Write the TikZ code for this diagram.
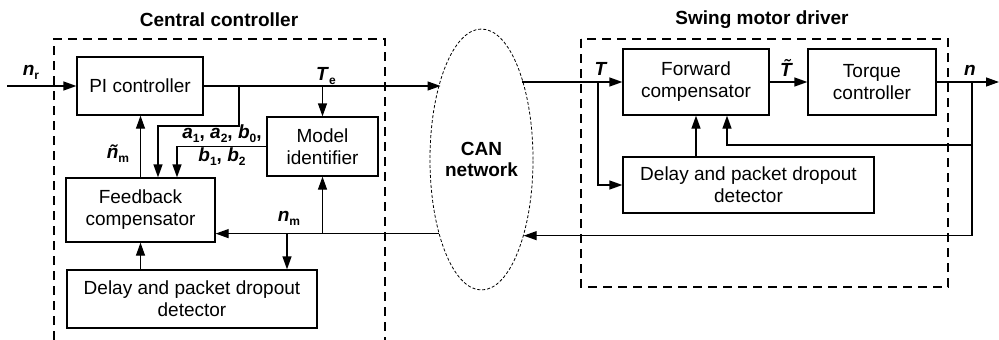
\documentclass[tikz,border=0pt]{standalone}
\usepackage{fontspec}
\setmainfont{Liberation Sans}
\usetikzlibrary{arrows.meta,shapes.geometric}
\newcommand\sig[2]{\textbf{\textit{#1}}\raisebox{-0.4ex}{\fontsize{12}{12}\selectfont\textbf{#2}}}
\tikzset{
  blk/.style={draw, line width=1.3pt, align=center, inner sep=0pt,
              font=\fontsize{19}{22}\selectfont},
  wire/.style={line width=1.3pt},
  arr/.style={wire, -{Triangle[length=13pt,width=9pt]}},
  grp/.style={line width=1.3pt, dash pattern=on 9pt off 6pt},
  ttl/.style={font=\fontsize{19}{22}\selectfont\bfseries},
  lbl/.style={font=\fontsize{19}{22}\selectfont, inner sep=0pt},
}
\begin{document}
\begin{tikzpicture}[x=1pt,y=-1pt]
\useasboundingbox (0,0) rectangle (999,340);

% group frames
\draw[grp] (54,340) -- (54,39) -- (385,39) -- (385,340);
\draw[grp] (581,39) rectangle (948,287);
\node[ttl] (t1) at (219,20) {Central controller};
\node[ttl] (t2) at (762,20) {Swing motor driver};

% central controller blocks
\node[blk, minimum width=126pt, minimum height=58pt] (pi) at (140,86) {PI controller};
\node[blk, minimum width=111pt, minimum height=59pt] (mi) at (322.5,146.5) {Model\\identifier};
\node[blk, minimum width=149pt, minimum height=64pt] (fb) at (140.5,210) {Feedback\\compensator};
\node[blk, minimum width=250pt, minimum height=58pt] (dl) at (192,299) {Delay and packet dropout\\detector};

% network
\node[draw, ellipse, line width=0.8pt, dash pattern=on 3pt off 2pt,
      minimum width=93pt, minimum height=261pt, inner sep=0pt,
      align=center, font=\fontsize{19}{21}\selectfont\bfseries] (can) at (481.5,159.5) {CAN\\network};

% motor driver blocks
\node[blk, minimum width=146pt, minimum height=66pt] (fc) at (696,82) {Forward\\compensator};
\node[blk, minimum width=128pt, minimum height=66pt] (tc) at (872,82) {Torque\\controller};
\node[blk, minimum width=251pt, minimum height=56pt] (dr) at (748.5,185) {Delay and packet dropout\\detector};

% free ends and junctions
\coordinate (inr) at (7,86);
\coordinate (outn) at (999,82);
\coordinate (jTe) at (239,86);
\coordinate (jT) at (598,82);
\coordinate (jn) at (972,82);

% central controller wiring
\draw[arr] (inr) -- (pi.west);
\draw[arr] (pi.east) -- (can.117.65 |- pi.east);
\draw[arr] (jTe) |- ([xshift=17.5pt]fb.north |- 0,126) -- ([xshift=17.5pt]fb.north);
\draw[arr] (mi.north |- pi.east) -- (mi.north);
\draw[arr] (mi.west) -| ([xshift=36.5pt]fb.north);
\draw[arr] (fb.north) -- (fb.north |- pi.south);
\draw[arr] (can.240.4) -- (can.240.4 -| fb.east);
\draw[arr] (mi.south |- can.240.4) -- (mi.south);
\draw[arr] ([xshift=95pt]dl.north |- can.240.4) -- ([xshift=95pt]dl.north);
\draw[arr] (fb.south |- dl.north) -- (fb.south);

% motor driver wiring
\draw[wire] (can.64.18 |- fc.west) -- (jT);
\draw[arr] (jT) -- (fc.west);
\draw[arr] (jT) |- (dr.west);
\draw[arr] (dr.north -| fc.south) -- (fc.south);
\draw[arr] (fc.east) -- (tc.west);
\draw[arr] (tc.east) -- (outn);
\draw[arr] (jn) |- (can.299.6 -| jn) -- (can.299.6);
\draw[arr] (jn |- 0,145) -| ([xshift=31pt]fc.south);

% signal labels
\node[lbl] (lnr) at (31,72) {\sig{n}{r}};
\node[lbl] (lte) at (326,76) {\sig{T}{e}};
\node[lbl] (lnt) at (118,154) {\sig{\~{n}}{m}};
\node[lbl] (lab1) at (222,134) {\sig{a}{1}\textbf{, }\sig{a}{2}\textbf{, }\sig{b}{0}\textbf{,}};
\node[lbl] (lab2) at (222,157) {\sig{b}{1}\textbf{, }\sig{b}{2}};
\node[lbl] (lnm) at (289,218) {\sig{n}{m}};
\node[lbl] (lT) at (601,69) {\textbf{\textit{T}}};
\node[lbl] (lTt) at (786,68) {\textbf{\textit{\~{T}}}};
\node[lbl] (ln) at (970,70) {\textbf{\textit{n}}};
\end{tikzpicture}
\end{document}
